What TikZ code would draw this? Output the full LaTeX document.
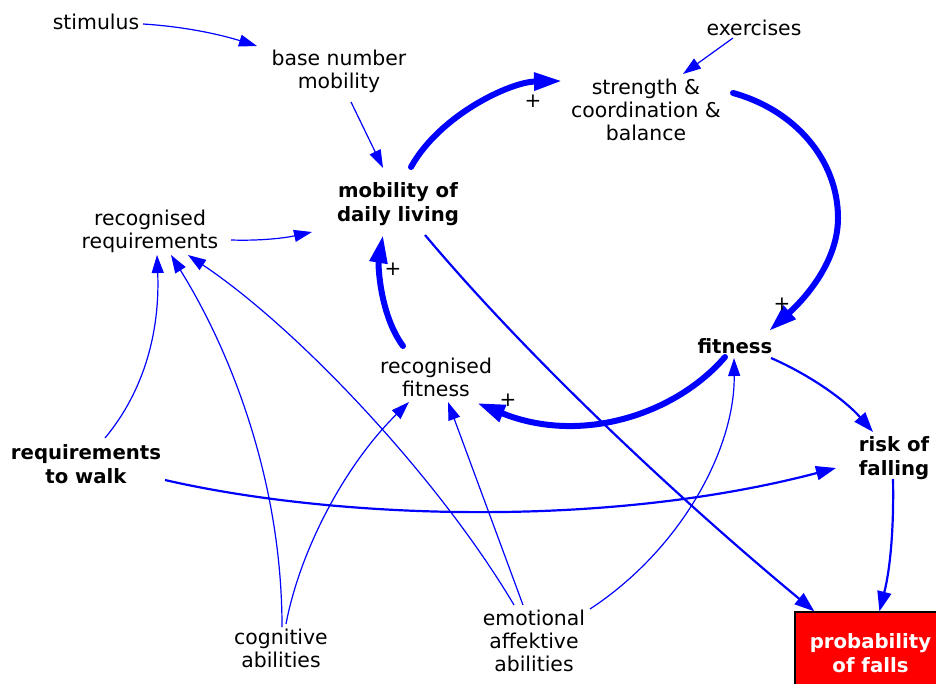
\documentclass[tikz,border=0pt]{standalone}
\usepackage{fontspec}
\setmainfont{DejaVu Sans}
\usetikzlibrary{arrows.meta}
\definecolor{linkblue}{RGB}{0,0,255}
\definecolor{alarmred}{RGB}{255,0,0}
\begin{document}
\begin{tikzpicture}[x=1pt,y=-1pt,
  var/.style={align=center,inner sep=0pt,font=\fontsize{20.4}{23}\selectfont},
  keyvar/.style={align=center,inner sep=0pt,font=\fontsize{19.7}{23.5}\selectfont\bfseries},
  alarmbox/.style={keyvar,text=white,fill=alarmred,draw=black,line width=1.2pt,
    minimum width=151pt,minimum height=82pt},
  link/.style={draw=linkblue,line width=1.2pt,-{Triangle[length=18pt,width=12pt]}},
  medlink/.style={draw=linkblue,line width=2.2pt,-{Triangle[length=20pt,width=14pt]}},
  loop/.style={draw=linkblue,line width=6pt,line cap=round,-{Triangle[length=28pt,width=17pt]}},
  sign/.style={inner sep=0pt,font=\fontsize{20}{20}\selectfont}
]
\useasboundingbox (0,0) rectangle (936,684);

% variables
\node[var] (stim) at (96,22) {stimulus};
\node[var] (base) at (339,71) {base number\\mobility};
\node[var] (exer) at (754,28) {exercises};
\node[var] (str) at (646,110) {strength \&\\coordination \&\\balance};
\node[keyvar] (mob) at (398,204) {mobility of\\daily living};
\node[var] (rreq) at (150,231) {recognised\\requirements};
\node[keyvar] (fit) at (735,346) {fitness};
\node[var] (rfit) at (436,377) {recognised\\fitness};
\node[keyvar] (rwalk) at (86,464) {requirements\\to walk};
\node[keyvar] (risk) at (894,458) {risk of\\falling};
\node[var] (cog) at (281,648) {cognitive\\abilities};
\node[var] (emo) at (534,641) {emotional\\affektive\\abilities};
\node[alarmbox] (prob) at (870.5,653) {probability\\of falls};

% thin influences
\draw[link] ([shift={(47,2)}]stim.center) .. controls (190,27) and (225,36) .. ([shift={(-82,-25)}]base.center);
\draw[link] ([shift={(-21,10)}]exer.center) -- ([shift={(37,-36)}]str.center);
\draw[link] ([shift={(12,31)}]base.center) -- ([shift={(-15,-36)}]mob.center);
\draw[link] ([shift={(81,9)}]rreq.center) .. controls (260,241) and (285,238) .. ([shift={(-86,28)}]mob.center);
\draw[link] ([shift={(19,-26)}]rwalk.center) .. controls (145,390) and (160,330) .. ([shift={(7,24)}]rreq.center);
\draw[link] ([shift={(1,-21)}]cog.center) .. controls (282,480) and (230,350) .. ([shift={(21,24)}]rreq.center);
\draw[link] ([shift={(5,-24)}]cog.center) .. controls (300,550) and (345,465) .. ([shift={(-27,25)}]rfit.center);
\draw[link] ([shift={(-20,-36)}]emo.center) .. controls (440,480) and (300,330) .. ([shift={(38,24)}]rreq.center);
\draw[link] ([shift={(-11,-36)}]emo.center) -- ([shift={(12,25)}]rfit.center);
\draw[link] ([shift={(56,-32)}]emo.center) .. controls (680,550) and (735,450) .. ([shift={(-1,12)}]fit.center);

% medium influences
\draw[medlink] ([shift={(27,31)}]mob.center) .. controls (530,360) and (680,500) .. ([shift={(20,0)}]prob.north west);
\draw[medlink] ([shift={(36,12)}]fit.center) .. controls (810,375) and (845,400) .. ([shift={(-21,-26)}]risk.center);
\draw[medlink] ([shift={(-1,21)}]risk.center) .. controls (894,530) and (890,570) .. ([shift={(85,0)}]prob.north west);
\draw[medlink] ([shift={(79,16)}]rwalk.center) .. controls (330,518) and (600,530) .. ([shift={(-58,10)}]risk.center);

% reinforcing loop
\draw[loop] ([shift={(13,-37)}]mob.center) .. controls (440,115) and (510,82) .. ([shift={(-84,-29)}]str.center);
\draw[loop] ([shift={(87,-17)}]str.center) .. controls (795,110) and (838,160) .. (838,218)
  .. controls (838,265) and (800,303) .. ([shift={(34,-15)}]fit.center);
\draw[loop] ([shift={(-10,11)}]fit.center) .. controls (675,415) and (580,445) .. ([shift={(41,26)}]rfit.center);
\draw[loop] ([shift={(-33,-31)}]rfit.center) .. controls (380,315) and (378,265) .. ([shift={(-15,31)}]mob.center);

% polarities
\node[sign] (p1) at (533,101) {+};
\node[sign] (p2) at (782,304) {+};
\node[sign] (p3) at (508,400) {+};
\node[sign] (p4) at (393,269) {+};
\end{tikzpicture}
\end{document}
